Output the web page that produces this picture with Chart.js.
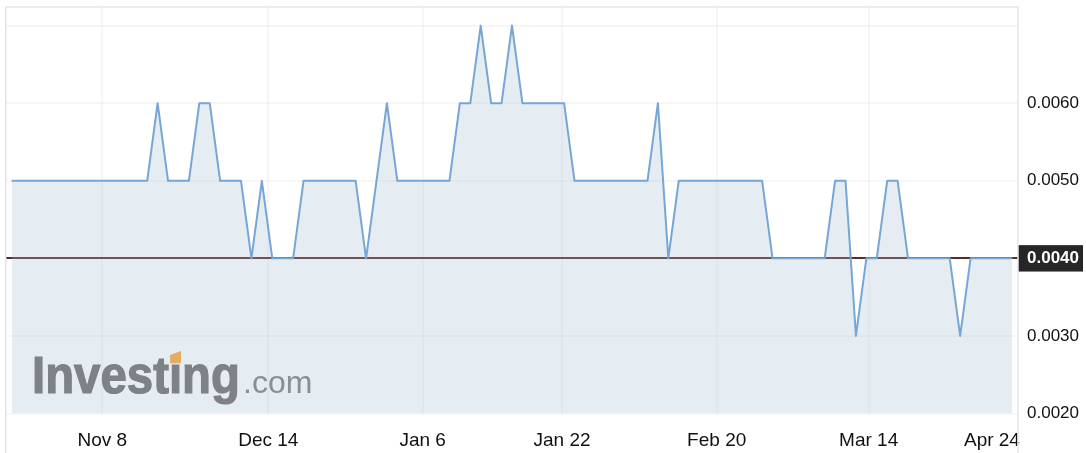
<!DOCTYPE html>
<html>
<head>
<meta charset="utf-8">
<script src="https://cdn.jsdelivr.net/npm/chart.js@4.4.1/dist/chart.umd.min.js"></script>
<style>
  html, body { margin: 0; padding: 0; background: #fff; }
  #wrap { width: 1086px; height: 453px; position: relative; }
</style>
</head>
<body>
<div id="wrap"><canvas id="c" width="1086" height="453"></canvas></div>
<script>
// ---- data ----
const prices = [
  0.005,0.005,0.005,0.005,0.005,0.005,0.005,0.005,0.005,0.005,0.005,0.005,0.005,0.005,
  0.006,
  0.005,0.005,0.005,
  0.006,0.006,
  0.005,0.005,0.005,
  0.004,
  0.005,
  0.004,0.004,0.004,
  0.005,0.005,0.005,0.005,0.005,0.005,
  0.004,
  0.005,
  0.006,
  0.005,0.005,0.005,0.005,0.005,0.005,
  0.006,0.006,
  0.007,
  0.006,0.006,
  0.007,
  0.006,0.006,0.006,0.006,0.006,
  0.005,0.005,0.005,0.005,0.005,0.005,0.005,0.005,
  0.006,
  0.004,
  0.005,0.005,0.005,0.005,0.005,0.005,0.005,0.005,0.005,
  0.004,0.004,0.004,0.004,0.004,0.004,
  0.005,0.005,
  0.003,
  0.004,0.004,
  0.005,0.005,
  0.004,0.004,0.004,0.004,0.004,
  0.003,
  0.004,0.004,0.004,0.004,0.004
];
const xTickPositions = [8.69, 24.62, 39.43, 52.80, 67.64, 82.22, 94.05];
const xTickLabels = ['Nov 8', 'Dec 14', 'Jan 6', 'Jan 22', 'Feb 20', 'Mar 14', 'Apr 24'];
const yTickValues = [0.002, 0.003, 0.004, 0.005, 0.006, 0.007];
const yLabelledTicks = [0.002, 0.003, 0.004, 0.005, 0.006];
const currentPrice = 0.004;

const points = prices.map((v, i) => ({ x: i, y: v }));

const FONT = 'Liberation Sans, Arial, Helvetica, sans-serif';

const framePlugin = {
  id: 'frame',
  afterDraw(chart) {
    const ctx = chart.ctx;
    const a = chart.chartArea;
    ctx.save();
    ctx.strokeStyle = '#e2e6eb';
    ctx.lineWidth = 1.5;
    ctx.beginPath();
    ctx.moveTo(a.left + 0.75, chart.height);
    ctx.lineTo(a.left + 0.75, a.top);
    ctx.lineTo(a.right, a.top);
    ctx.lineTo(a.right, chart.height);
    ctx.stroke();
    ctx.restore();
  }
};

const watermarkPlugin = {
  id: 'watermark',
  afterDatasetsDraw(chart) {
    const ctx = chart.ctx;
    ctx.save();
    const x0 = 32, base = 392.5;
    ctx.font = 'bold 51px ' + FONT;
    const txt = 'Invest\u0131ng';
    const w = ctx.measureText(txt).width;
    const sx = 208 / w;
    ctx.save();
    ctx.translate(x0, base);
    ctx.scale(sx, 1);
    ctx.fillStyle = '#7e8186';
    ctx.strokeStyle = '#7e8186';
    ctx.lineWidth = 1.2;
    ctx.textBaseline = 'alphabetic';
    ctx.fillText(txt, 0, 0);
    ctx.strokeText(txt, 0, 0);
    const iStart = ctx.measureText('Invest').width;
    const iW = ctx.measureText('\u0131').width;
    ctx.restore();
    const ix = x0 + iStart * sx;
    const iw = iW * sx;
    const cx = ix + iw / 2;
    ctx.fillStyle = '#e6ad62';
    ctx.beginPath();
    ctx.moveTo(cx - 5.5, 355);
    ctx.lineTo(cx + 5.5, 351);
    ctx.lineTo(cx + 5.5, 363.3);
    ctx.lineTo(cx - 5.5, 363.3);
    ctx.closePath();
    ctx.fill();
    ctx.font = '32px ' + FONT;
    ctx.fillStyle = '#8b8e92';
    ctx.fillText('.com', x0 + 211, base);
    ctx.restore();
  }
};

new Chart(document.getElementById('c'), {
  type: 'line',
  data: {
    datasets: [{
      data: points,
      borderColor: 'rgb(118,166,214)',
      borderWidth: 2,
      borderJoinStyle: 'round',
      backgroundColor: 'rgba(160,190,210,0.28)',
      fill: { value: 0.002 },
      pointRadius: 0,
      tension: 0
    }]
  },
  options: {
    responsive: false,
    animation: false,
    devicePixelRatio: 1,
    layout: { padding: { left: 5, top: 7, right: 0, bottom: 0 } },
    plugins: { legend: { display: false }, tooltip: { enabled: false } },
    scales: {
      x: {
        type: 'linear',
        position: 'bottom',
        min: -0.643,
        max: 96.55,
        afterBuildTicks: s => { s.ticks = xTickPositions.map(v => ({ value: v })); },
        afterFit: s => { s.height = 39.5; s.paddingLeft = 0; s.paddingRight = 0; },
        border: { display: false },
        grid: {
          drawTicks: false,
          lineWidth: 2,
          color: c => (c.index === xTickPositions.length - 1 ? 'rgba(0,0,0,0)' : 'rgba(0,0,0,0.035)')
        },
        ticks: {
          autoSkip: false,
          maxRotation: 0,
          padding: 16,
          color: '#111',
          font: { family: FONT, size: 19 },
          callback: (v, i) => xTickLabels[i]
        }
      },
      y: {
        type: 'linear',
        position: 'right',
        min: 0.002,
        max: 0.00724,
        z: 1,
        afterBuildTicks: s => { s.ticks = yTickValues.map(v => ({ value: v })); },
        afterFit: s => { s.width = 68; s.paddingTop = 0; s.paddingBottom = 0; },
        border: { display: false },
        grid: {
          drawTicks: false,
          color: c => (c.tick && c.tick.value === currentPrice ? '#5b2b2b' : 'rgba(0,0,0,0.035)'),
          lineWidth: 2
        },
        ticks: {
          padding: 9,
          callback: v => (yLabelledTicks.includes(v) ? v.toFixed(4) : ''),
          showLabelBackdrop: c => !!(c.tick && c.tick.value === currentPrice),
          backdropColor: '#262626',
          backdropPadding: { left: 10, right: 4, top: 3, bottom: 3 },
          color: c => (c.tick && c.tick.value === currentPrice ? '#ffffff' : '#111'),
          font: c => ({ family: FONT, size: 17, weight: (c.tick && c.tick.value === currentPrice) ? 'bold' : 'normal' })
        }
      }
    }
  },
  plugins: [framePlugin, watermarkPlugin]
});
</script>
</body>
</html>
